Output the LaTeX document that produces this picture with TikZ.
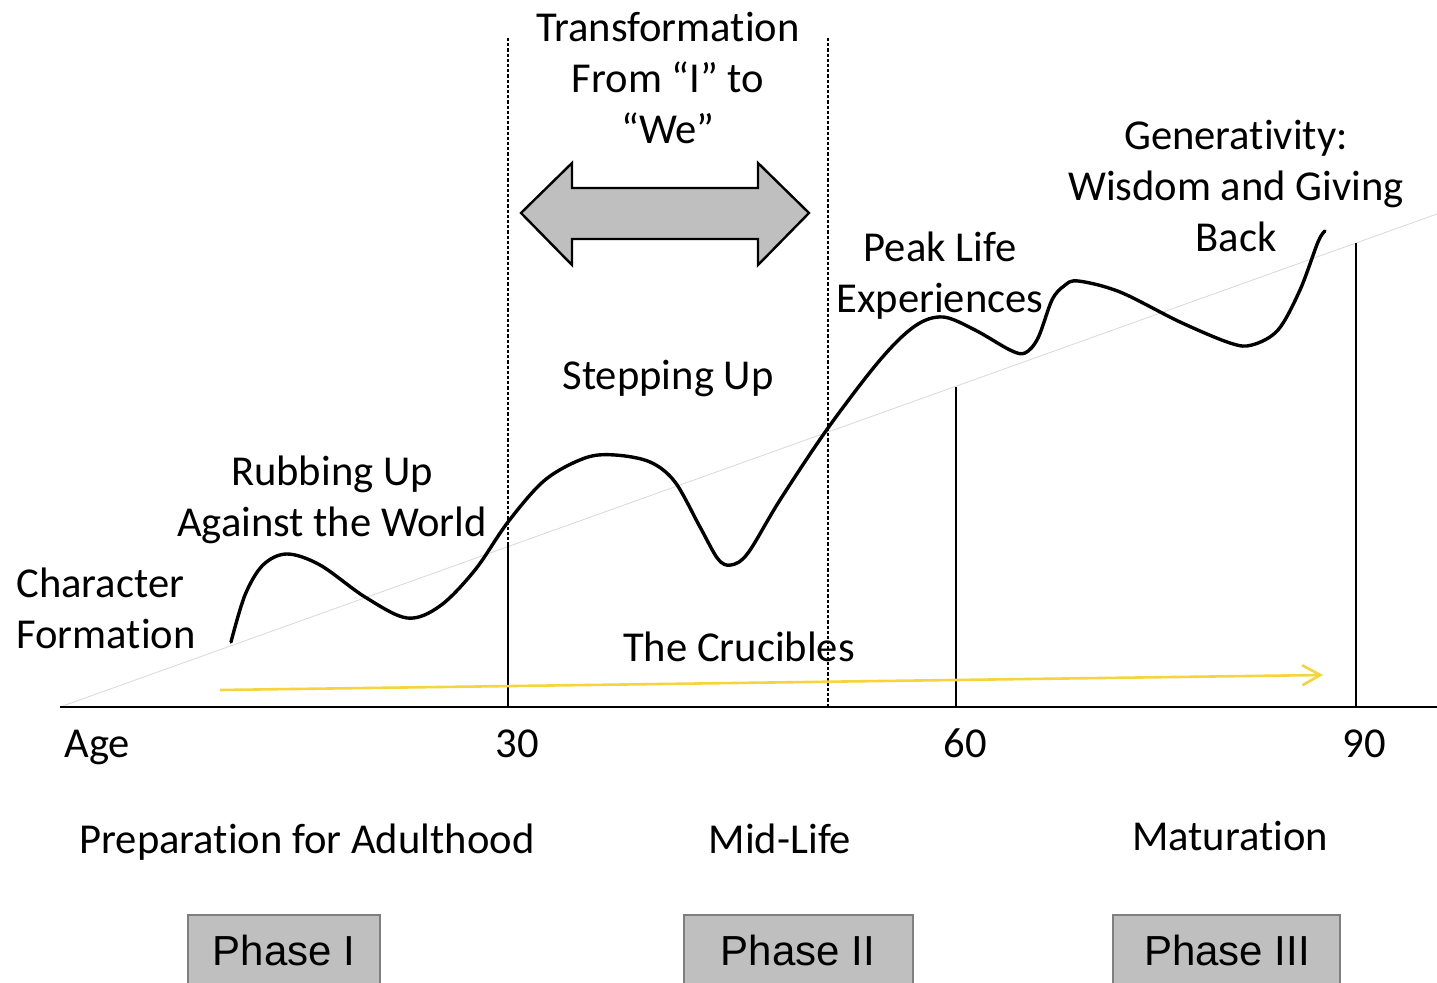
\documentclass[tikz,border=0pt]{standalone}
\usepackage{fontspec}
\setmainfont{Carlito}[Ligatures=NoCommon]
\newfontfamily\arialf{Liberation Sans}
\usetikzlibrary{arrows.meta}
\definecolor{boxgray}{HTML}{BFBFBF}
\definecolor{edgegray}{HTML}{7F7F7F}
\definecolor{diaggray}{HTML}{D9D9D9}
\definecolor{gold}{HTML}{F6D43C}
\begin{document}
\begin{tikzpicture}[x=0.5pt,y=-0.5pt,
  lbl/.style={font=\fontsize{21.3}{25.5}\selectfont, inner sep=0pt, anchor=base},
  lbll/.style={lbl, anchor=base west},
  phasebox/.style={draw=edgegray, line width=0.6pt, fill=boxgray},
  phasetxt/.style={font=\arialf\fontsize{21}{25}\selectfont, inner sep=0pt, anchor=base},
  guide/.style={line width=0.8pt, dash pattern=on 1.6pt off 1pt},
  tick/.style={line width=0.8pt},
  lifecurve/.style={line width=1.7pt, line cap=round, line join=round}
]
\useasboundingbox (0,0) rectangle (1437,983);
\fill[white] (0,0) rectangle (1437,983);

% diagonal trend line
\coordinate (d0) at (60,707);
\coordinate (d1) at (1437,214);
\draw[diaggray, line width=0.4pt] (d0) -- (d1);

% axis
\coordinate (ax0) at (60,707);
\coordinate (ax1) at (1437,707);
\draw[line width=1pt] (ax0) -- (ax1);

% vertical markers
\coordinate (v30t) at (508,545); \coordinate (v30b) at (508,707);
\coordinate (v60t) at (956,387); \coordinate (v60b) at (956,707);
\coordinate (v90t) at (1356,243); \coordinate (v90b) at (1356,707);
\draw[tick] (v30t) -- (v30b);
\draw[tick] (v60t) -- (v60b);
\draw[tick] (v90t) -- (v90b);

% dashed guides
\coordinate (g1t) at (508,38); \coordinate (g1b) at (508,707);
\coordinate (g2t) at (828,38); \coordinate (g2b) at (828,707);
\draw[guide] (g1t) -- (g1b);
\draw[guide] (g2t) -- (g2b);

% yellow arrow
\coordinate (y0) at (220,690);
\coordinate (y1) at (1323,675);
\draw[gold, line width=1.3pt, -{Straight Barb[length=9pt,width=10pt]}] (y0) -- (y1);

% double arrow
\draw[fill=boxgray, line width=1.2pt, line join=miter]
  (521,213) -- (572,163) -- (572,188) -- (758,188) -- (758,163) -- (809,213)
  -- (758,265) -- (758,239) -- (572,239) -- (572,265) -- cycle;

% life curve
\draw[lifecurve] plot[smooth, tension=0.55] coordinates {
 (231,642) (245,595) (263,565) (287,554) (320,565) (365,597) (407,618)
 (440,606) (475,570) (508,522) (545,480) (585,458) (615,455) (650,462)
 (675,482) (700,527) (718,559) (731,565) (748,553) (780,500) (828,428)
 (880,360) (915,326) (943,317) (975,330) (1010,350) (1025,353) (1038,338)
 (1052,300) (1064,286) (1078,281) (1120,292) (1180,322) (1230,343)
 (1252,345) (1278,330) (1300,290) (1318,242) (1325,231)};

% labels
\node[lbl] (tr1) at (668,42) {Transformation};
\node[lbl] (tr2) at (668,93) {From “I” to};
\node[lbl] (tr3) at (668,144) {“We”};
\node[lbl] (ge1) at (1236,150) {Generativity:};
\node[lbl] (ge2) at (1236,201) {Wisdom and Giving};
\node[lbl] (ge3) at (1236,252) {Back};
\node[lbl] (pk1) at (940,262) {Peak Life};
\node[lbl] (pk2) at (940,313) {Experiences};
\node[lbl] (st) at (668,390) {Stepping Up};
\node[lbl] (ru1) at (332,486) {Rubbing Up};
\node[lbl] (ru2) at (332,537) {Against the World};
\node[lbll] (cf1) at (16,598) {Character};
\node[lbll] (cf2) at (16,649) {Formation};
\node[lbl] (cr) at (739,662) {The Crucibles};
\node[lbll] (age) at (64,758) {Age};
\node[lbl] (n30) at (517,758) {30};
\node[lbl] (n60) at (965,758) {60};
\node[lbl] (n90) at (1364,758) {90};
\node[lbl] (ph1l) at (307,854) {Preparation for Adulthood};
\node[lbl] (ph2l) at (780,854) {Mid-Life};
\node[lbl] (ph3l) at (1230,851) {Maturation};

% phase boxes
\draw[phasebox] (188,915) rectangle (380,1000);
\draw[phasebox] (684,915) rectangle (913,1000);
\draw[phasebox] (1113,915) rectangle (1340,1000);
\node[phasetxt] (p1) at (284,966) {Phase I};
\node[phasetxt] (p2) at (798,966) {Phase II};
\node[phasetxt] (p3) at (1227,966) {Phase III};
\end{tikzpicture}
\end{document}
